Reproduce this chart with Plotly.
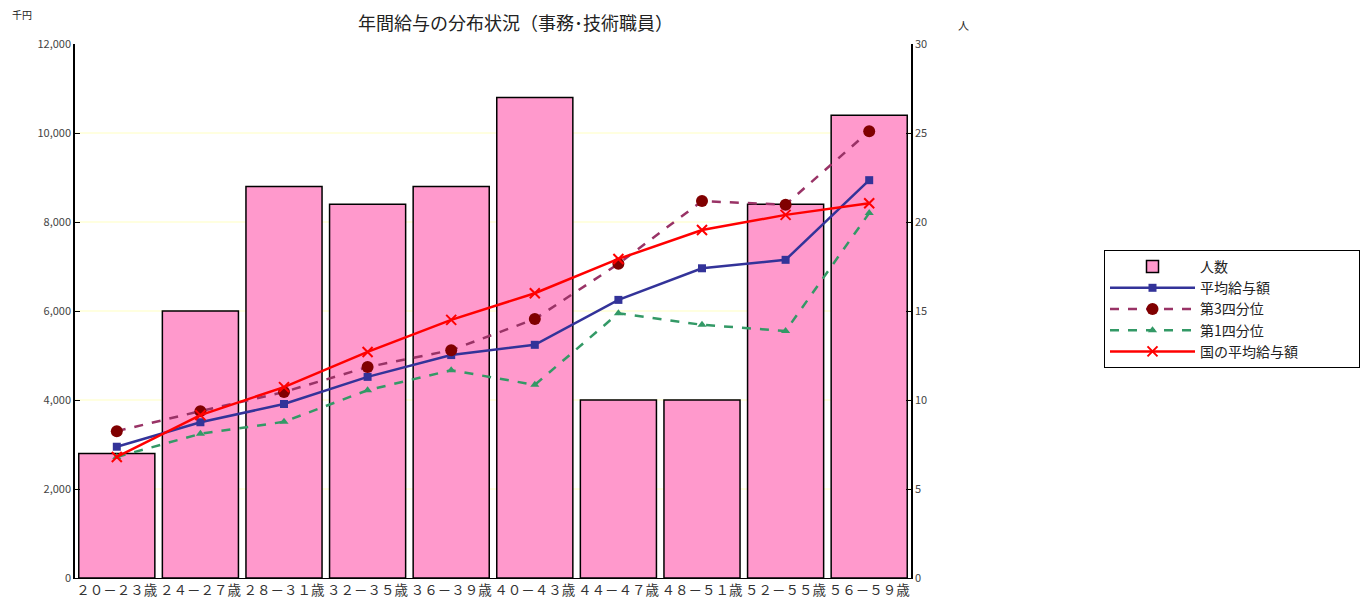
import plotly.graph_objects as go

categories = ["２０－２３歳", "２４－２７歳", "２８－３１歳", "３２－３５歳", "３６－３９歳",
              "４０－４３歳", "４４－４７歳", "４８－５１歳", "５２－５５歳", "５６－５９歳"]
headcount = [7, 15, 22, 21, 22, 27, 10, 10, 21, 26]
avg_salary = [2950, 3500, 3910, 4520, 5010, 5240, 6250, 6960, 7150, 8940]
q3_salary = [3300, 3750, 4180, 4740, 5120, 5820, 7060, 8470, 8390, 10040]
q1_salary = [2720, 3240, 3510, 4220, 4670, 4340, 5950, 5690, 5550, 8200]
national_avg = [2720, 3660, 4290, 5080, 5800, 6400, 7170, 7820, 8160, 8420]
series_names = ["人数", "平均給与額", "第3四分位", "第1四分位", "国の平均給与額"]

left_ticks = [0, 2000, 4000, 6000, 8000, 10000, 12000]
right_ticks = [0, 5, 10, 15, 20, 25, 30]

font_jp = "Noto Sans CJK JP"

ML, MR, MT, MB = 75, 454, 44, 23
W, H = 1365, 601
plot_w = W - ML - MR
plot_h = H - MT - MB


def px(xp, yp):
    return (xp - ML) / plot_w, (H - MB - yp) / plot_h


fig = go.Figure()
fig.add_trace(go.Bar(
    x=categories, y=headcount, name=series_names[0], yaxis="y",
    marker=dict(color="#FF99CC", line=dict(color="#000000", width=1.5)),
    width=0.91,
))
fig.add_trace(go.Scatter(
    x=categories, y=avg_salary, name=series_names[1], yaxis="y2", mode="lines+markers",
    line=dict(color="#333399", width=2.5),
    marker=dict(symbol="square", size=8, color="#333399"),
))
fig.add_trace(go.Scatter(
    x=categories, y=q3_salary, name=series_names[2], yaxis="y2", mode="lines+markers",
    line=dict(color="#993366", width=2.5, dash="dash"),
    marker=dict(symbol="circle", size=12, color="#800000"),
))
fig.add_trace(go.Scatter(
    x=categories, y=q1_salary, name=series_names[3], yaxis="y2", mode="lines+markers",
    line=dict(color="#339966", width=2.5, dash="dash"),
    marker=dict(symbol="triangle-up", size=8, color="#339966"),
))
fig.add_trace(go.Scatter(
    x=categories, y=national_avg, name=series_names[4] + "\u3000\u3000\u3000\u3000",
    yaxis="y2", mode="lines+markers",
    line=dict(color="#FF0000", width=2.5),
    marker=dict(symbol="x-thin", size=10, line=dict(color="#FF0000", width=2)),
))

lx, ly = px(1104, 250)

fig.update_layout(
    width=W, height=H,
    margin=dict(l=ML, r=MR, t=MT, b=MB, autoexpand=False),
    paper_bgcolor="white", plot_bgcolor="white",
    font=dict(family=font_jp, size=12, color="#333333"),
    xaxis=dict(
        type="category", range=[-0.5, 9.5], automargin=False,
        showline=True, linecolor="#000000", linewidth=1,
        tickfont=dict(size=13.5, color="#333333"), ticks="", showgrid=False,
    ),
    yaxis=dict(
        side="right", range=[0, 30], tickvals=right_ticks, automargin=False,
        showline=True, linecolor="#000000", linewidth=1.5,
        ticks="inside", ticklen=5, tickcolor="#000000",
        showgrid=True, gridcolor="#FFFFE0", gridwidth=2,
        tickfont=dict(size=11, color="#444444"), zeroline=False,
    ),
    yaxis2=dict(
        overlaying="y", side="left", range=[0, 12000], tickvals=left_ticks,
        tickformat=",", automargin=False,
        showline=True, linecolor="#000000", linewidth=1.5,
        ticks="inside", ticklen=5, tickcolor="#000000",
        showgrid=False, tickfont=dict(size=11, color="#444444"), zeroline=False,
    ),
    legend=dict(
        x=lx, y=ly, xanchor="left", yanchor="top",
        bordercolor="#000000", borderwidth=1, bgcolor="white",
        font=dict(size=14, color="#222222"), tracegroupgap=0,
        itemwidth=85,
    ),
)

tx, ty = px(515, 22)
ux, uy = px(22, 15)
rx, ry = px(963, 25)
fig.add_annotation(text="年間給与の分布状況（事務･技術職員）", x=tx, y=ty, xref="paper", yref="paper",
                   xanchor="center", yanchor="middle",
                   showarrow=False, font=dict(size=18, color="#222222"))
fig.add_annotation(text="千円", x=ux, y=uy, xref="paper", yref="paper",
                   xanchor="center", yanchor="middle",
                   showarrow=False, font=dict(size=10, color="#222222"))
fig.add_annotation(text="人", x=rx, y=ry, xref="paper", yref="paper",
                   xanchor="center", yanchor="middle",
                   showarrow=False, font=dict(size=11, color="#222222"))

fig.write_html("out.html")
